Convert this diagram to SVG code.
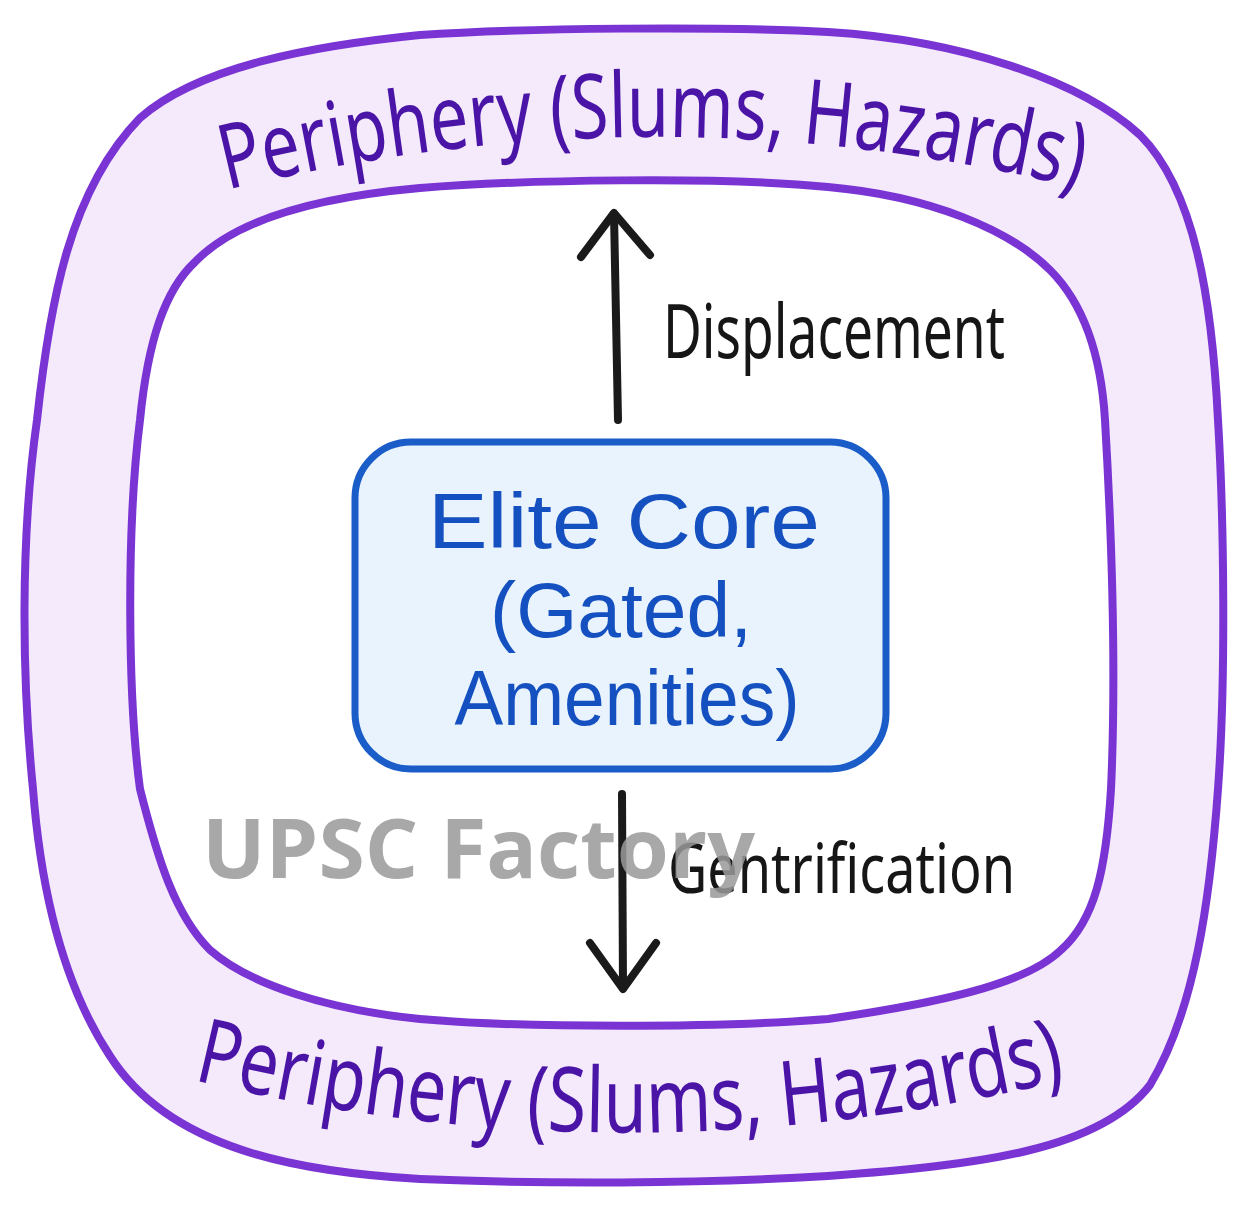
<svg xmlns="http://www.w3.org/2000/svg" width="1248" height="1209" viewBox="0 0 1248 1209">
  <defs>
    <style>
      .ring { stroke: #7a34d4; stroke-width: 8; stroke-linejoin: round; }
      .peri { font-family: "Noto Sans", "DejaVu Sans", sans-serif; font-size: 90px; fill: #4a14a6; }
      .core { font-family: "Liberation Sans", "Noto Sans", sans-serif; font-size: 78px; fill: #1450c0; text-anchor: middle; }
      .lbl { font-family: "Noto Sans", "DejaVu Sans", sans-serif; fill: #161616; }
      .arrow { fill: none; stroke: #1a1a1a; stroke-width: 8; stroke-linecap: round; stroke-linejoin: round; }
      .wm { font-family: "Open Sans", "Noto Sans", sans-serif; font-weight: bold; font-size: 82px; fill: #9a9a9a; opacity: 0.85; }
    </style>
    <path id="topArc" d="M 227,190 Q 656,84 1087,190"/>
    <path id="botArc" d="M 193,1080 Q 630,1186 1072,1078"/>
  </defs>
  <rect width="1248" height="1209" fill="#ffffff"/>

  <g id="periphery">
    <path class="ring" fill="#f4eafc" d="M 420,35 C 520,28 720,26 828,32 C 960,40 1080,80 1140,135 C 1195,190 1212,300 1218,420 C 1224,520 1226,680 1218,789 C 1210,900 1195,1010 1150,1085 C 1100,1150 980,1165 828,1176 C 700,1184 540,1184 420,1179 C 300,1172 170,1150 110,1056 C 60,980 40,880 33,789 C 22,680 20,540 37,420 C 50,300 70,190 140,118 C 200,65 320,45 420,35 Z"/>
    <text class="peri"><textPath href="#topArc" textLength="860" lengthAdjust="spacingAndGlyphs">Periphery (Slums, Hazards)</textPath></text>
    <text class="peri"><textPath href="#botArc" textLength="882" lengthAdjust="spacingAndGlyphs">Periphery (Slums, Hazards)</textPath></text>
  </g>

  <g id="inner-zone">
    <path class="ring" fill="#ffffff" d="M 420,188 C 520,180 720,176 828,187 C 930,196 1010,230 1050,270 C 1090,310 1102,370 1105,420 C 1112,540 1116,680 1111,789 C 1106,870 1095,920 1061,950 C 1030,980 960,1000 828,1019 C 720,1028 520,1028 420,1019 C 330,1010 250,985 210,950 C 175,915 158,860 140,789 C 128,700 126,530 140,420 C 148,340 165,290 195,262 C 240,215 330,196 420,188 Z"/>
  </g>

  <g id="elite-core">
    <rect x="355" y="442" width="531" height="327" rx="56" ry="56" fill="#e9f3fd" stroke="#1a5cc8" stroke-width="7"/>
    <text class="core" x="624" y="548" textLength="392" lengthAdjust="spacingAndGlyphs">Elite Core</text>
    <text class="core" x="621" y="637" textLength="262" lengthAdjust="spacingAndGlyphs">(Gated,</text>
    <text class="core" x="627" y="725" textLength="345" lengthAdjust="spacingAndGlyphs">Amenities)</text>
  </g>

  <g id="connectors">
    <g id="displacement">
      <path class="arrow" d="M 618,420 L 614,214"/>
      <path class="arrow" d="M 581,257 L 614,213 L 650,255"/>
      <text class="lbl" x="663" y="358" font-size="74" textLength="342" lengthAdjust="spacingAndGlyphs">Displacement</text>
    </g>
    <g id="gentrification">
      <path class="arrow" d="M 622,794 L 623,988"/>
      <path class="arrow" d="M 590,943 L 623,989 L 656,943"/>
      <text class="lbl" x="668" y="893" font-size="70" textLength="347" lengthAdjust="spacingAndGlyphs">Gentrification</text>
    </g>
  </g>

  <text class="wm" x="202" y="878" textLength="553" lengthAdjust="spacingAndGlyphs">UPSC Factory</text>
</svg>
